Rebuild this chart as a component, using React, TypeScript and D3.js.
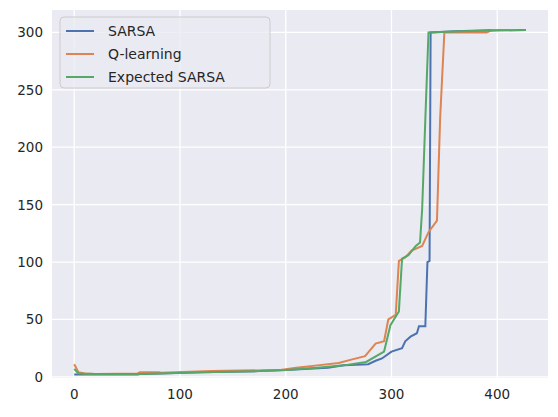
import React from "react";
import * as d3 from "d3";

const sarsa: [number, number][] = [[0,2],[60,2],[62,2.5],[80,3],[120,4],[175,5],[200,6],[240,8],[255,10],[278,11],[285,14],[291,16],[300,22],[310,25],[313,31],[318,35],[324,38],[326,44],[332,44],[334,100],[336,101],[337,300],[360,301],[400,302],[427,302]];
const qlearn: [number, number][] = [[0,11],[4,4],[10,3],[20,2.5],[60,3],[62,4],[80,4],[82,3.5],[130,5],[195,6],[210,8],[230,10],[250,12],[262,15],[275,18],[285,29],[293,31],[297,50],[304,54],[307,101],[313,104],[319,110],[329,114],[335,126],[343,136],[346,225],[350,300],[390,300],[395,302],[420,302]];
const esarsa: [number, number][] = [[0,7],[4,3],[20,2.5],[60,2.5],[80,3],[120,4],[175,5],[200,6],[230,8],[255,10],[276,13],[293,22],[299,45],[307,57],[310,103],[316,106],[323,114],[327,117],[329,146],[332,224],[335,300],[365,301],[427,302]];
const series = [
  { name: "SARSA", color: "#4c72b0", data: sarsa },
  { name: "Q-learning", color: "#dd8452", data: qlearn },
  { name: "Expected SARSA", color: "#55a868", data: esarsa },
];
const xTicks = [0, 100, 200, 300, 400];
const yTicks = [0, 50, 100, 150, 200, 250, 300];

export default function App() {
  const L = 52, R = 548, T = 10, B = 378;
  const x = d3.scaleLinear().domain([-21, 448]).range([L, R]);
  const y = d3.scaleLinear().domain([-1, 319.5]).range([B, T]);
  const line = d3.line<[number, number]>().x(d => x(d[0])).y(d => y(d[1]));
  const font = "DejaVu Sans, sans-serif";
  return (
    <svg width={558} height={417} style={{ position: "absolute", left: 0, top: 0 }}>
      <rect width={558} height={417} fill="#fff" />
      <rect x={L} y={T} width={R - L} height={B - T} fill="#eaeaf2" />
      {xTicks.map(t => <line key={"x" + t} x1={x(t)} x2={x(t)} y1={T} y2={B} stroke="#fff" strokeWidth={1.3} />)}
      {yTicks.map(t => <line key={"y" + t} x1={L} x2={R} y1={y(t)} y2={y(t)} stroke="#fff" strokeWidth={1.3} />)}
      {xTicks.map(t => <text key={"xt" + t} x={x(t)} y={B + 21} textAnchor="middle" fontSize={13.5} fill="#262626" fontFamily={font}>{t}</text>)}
      {yTicks.map(t => <text key={"yt" + t} x={L - 9} y={y(t) + 5} textAnchor="end" fontSize={13.5} fill="#262626" fontFamily={font}>{t}</text>)}
      <g clipPath="url(#c)">
        <clipPath id="c"><rect x={L} y={T} width={R - L} height={B - T} /></clipPath>
        {series.map(s => <path key={s.name} d={line(s.data) || ""} fill="none" stroke={s.color} strokeWidth={2} />)}
      </g>
      <rect x={60} y={17} width={210} height={71} rx={4} fill="#eaeaf2" fillOpacity={0.8} stroke="#ccc" strokeWidth={1} />
      {series.map((s, i) => (
        <g key={"lg" + s.name}>
          <line x1={66} x2={94} y1={31 + i * 23} y2={31 + i * 23} stroke={s.color} strokeWidth={2} />
          <text x={108} y={36 + i * 23} fontSize={14} fill="#262626" fontFamily={font}>{s.name}</text>
        </g>
      ))}
    </svg>
  );
}
